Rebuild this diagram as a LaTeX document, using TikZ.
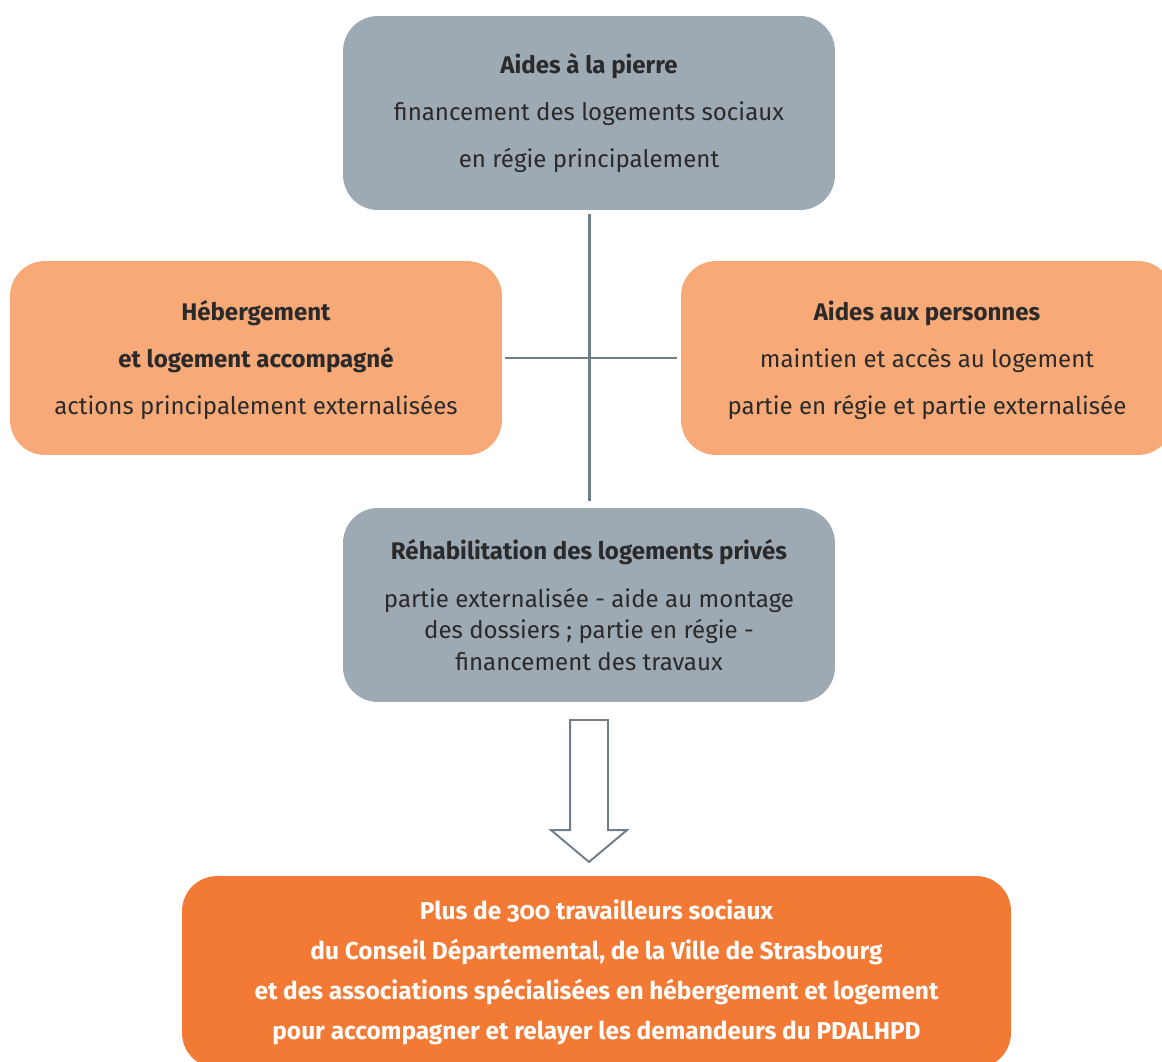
\documentclass[tikz,border=0pt]{standalone}
\usepackage{fontspec}
\setmainfont[Numbers=OldStyle]{Fira Sans}
\usepackage{xcolor}
\usepackage{tikz}
\usetikzlibrary{shapes, shapes.arrows, positioning}

\definecolor{gris}{HTML}{9DA9B3}
\definecolor{orangeclair}{HTML}{F7AA78}
\definecolor{orangefonce}{HTML}{F37A34}
\definecolor{trait}{HTML}{6F7E88}
\definecolor{texte}{HTML}{2A2A2A}

\begin{document}
\begin{tikzpicture}[x=0.02cm, y=-0.02cm,
		boite/.style={rounded corners=0.7cm, minimum width=9.84cm, minimum height=3.88cm,
			align=center, text=texte, inner sep=0pt, font=\fontsize{13.7}{26.7}\selectfont},
		liaison/.style={draw=trait, line width=1.7pt}]
	\useasboundingbox (0,0) rectangle (1162,1061);
	
	% boites du haut et des cotes
	\node[boite, fill=gris] (pierre) at (589,113)
	{\textbf{Aides à la pierre}\\financement des logements sociaux\\en régie principalement};
	\node[boite, fill=orangeclair] (hebergement) at (256,358)
	{\rule{0pt}{13.5pt}\textbf{Hébergement}\\\textbf{et logement accompagné}\\actions principalement externalisées\vphantom{p}};
	\node[boite, fill=orangeclair] (personnes) at (927,358)
	{\rule{0pt}{13.5pt}\textbf{Aides aux personnes}\\maintien et accès au logement\\partie en régie et partie externalisée};
	
	% rehabilitation
	\node[boite, fill=gris, font=\fontsize{13.7}{17.9}\selectfont] (rehab) at (589,605)
	{\textbf{Réhabilitation des logements privés}\\[0.33cm]partie externalisée - aide au montage\\des dossiers ; partie en régie -\\financement des travaux};
	
	% croix
	\draw[liaison, shorten <=0.08cm, shorten >=0.14cm] (pierre.south) -- (rehab.north);
	\draw[liaison, shorten <=0.06cm, shorten >=0.08cm] (hebergement.east) -- (personnes.west);
	
	% fleche
	\node[single arrow, rotate=-90, draw=trait, line width=1.1pt, fill=white,
	minimum height=2.84cm, inner sep=0.36cm, single arrow head extend=0.38cm,
	single arrow tip angle=100] (fleche) at (589,783) {};
	
	% travailleurs sociaux
	\node[boite, fill=orangefonce, text=white, minimum width=16.58cm, minimum height=3.84cm,
	font=\bfseries\fontsize{13.9}{22.8}\selectfont] (travailleurs) at (596.5,972)
	{Plus de 300 travailleurs sociaux\\du Conseil Départemental, de la Ville de Strasbourg\\et des associations spécialisées en hébergement et logement\\pour accompagner et relayer les demandeurs du PDALHPD};
\end{tikzpicture}
\end{document}
